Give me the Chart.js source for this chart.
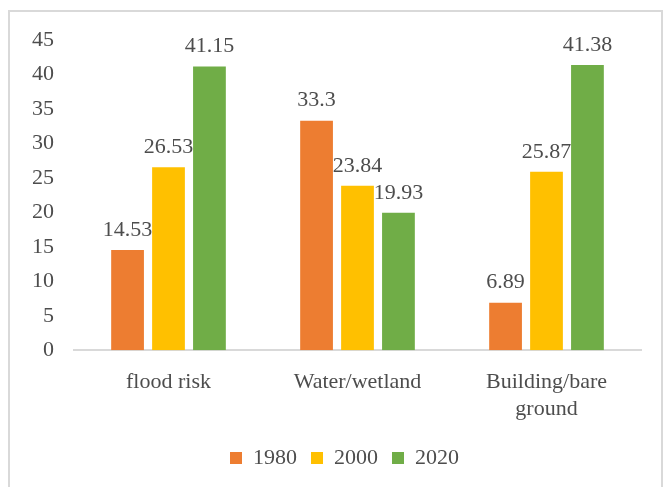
<!DOCTYPE html>
<html>
<head>
<meta charset="utf-8">
<script src="https://cdn.jsdelivr.net/npm/chart.js@4"></script>
<style>
  html, body { margin: 0; padding: 0; background: #fff; }
  #frame {
    position: absolute; left: 8px; top: 10px; width: 655px; height: 490px;
    border: 2px solid #d9d9d9; box-sizing: border-box;
  }
  #wrap { position: absolute; left: 0; top: 0; width: 671px; height: 487px; }
</style>
</head>
<body>
<div id="frame"></div>
<div id="wrap"><canvas id="landChart"></canvas></div>
<script>
// Land cover data
const categories = ["flood risk", "Water/wetland", ["Building/bare", "ground"]];
const years = ["1980", "2000", "2020"];
const values1980 = [14.53, 33.3, 6.89];
const values2000 = [26.53, 23.84, 25.87];
const values2020 = [41.15, 19.93, 41.38];
const yTicks = [0, 5, 10, 15, 20, 25, 30, 35, 40, 45];

const textColor = "#4d4d4d";
const serif = "'Liberation Serif', 'Times New Roman', serif";

// draws the value above every bar
const barValues = {
  id: "barValues",
  afterDatasetsDraw(chart) {
    const c = chart.ctx;
    c.save();
    c.fillStyle = textColor;
    c.font = "22px " + serif;
    c.textAlign = "center";
    c.textBaseline = "bottom";
    chart.data.datasets.forEach((ds, i) => {
      chart.getDatasetMeta(i).data.forEach((bar, j) => {
        c.fillText(String(ds.data[j]), bar.x, bar.y - 9);
      });
    });
    c.restore();
  },
};

// legend sits a bit right of centre in the original
const legendNudge = {
  id: "legendNudge",
  afterLayout(chart) {
    chart.legend.left += 18;
    chart.legend.right += 18;
  },
};

const ctx = document.getElementById("landChart").getContext("2d");
const landChart = new Chart(ctx, {
  type: "bar",
  data: {
    labels: categories,
    datasets: [
      { label: years[0], data: values1980, backgroundColor: "#ED7D31" },
      { label: years[1], data: values2000, backgroundColor: "#FFC000" },
      { label: years[2], data: values2020, backgroundColor: "#70AD47" },
    ],
  },
  options: {
    responsive: true,
    maintainAspectRatio: false,
    animation: false,
    layout: { padding: { left: 12, right: 30, top: 40, bottom: 8 } },
    datasets: {
      bar: { categoryPercentage: 0.65, barPercentage: 0.8 },
    },
    scales: {
      x: {
        afterFit(axis) {
          axis.height -= 8;
        },
        grid: { display: false, drawTicks: false },
        border: { color: "#d9d9d9", width: 2 },
        ticks: {
          color: textColor,
          font: { family: serif, size: 22 },
          padding: 19,
          maxRotation: 0,
        },
      },
      y: {
        min: 0,
        max: 45,
        afterBuildTicks(axis) {
          axis.ticks = yTicks.map((v) => ({ value: v }));
        },
        grid: { display: false, drawTicks: false },
        border: { display: false },
        ticks: {
          color: textColor,
          font: { family: serif, size: 22 },
          padding: 20,
        },
      },
    },
    plugins: {
      tooltip: { enabled: false },
      legend: {
        display: true,
        position: "bottom",
        labels: {
          color: textColor,
          font: { family: serif, size: 22 },
          boxWidth: 12,
          boxHeight: 12,
          padding: 14,
        },
      },
    },
  },
  plugins: [barValues, legendNudge],
});
</script>
</body>
</html>
